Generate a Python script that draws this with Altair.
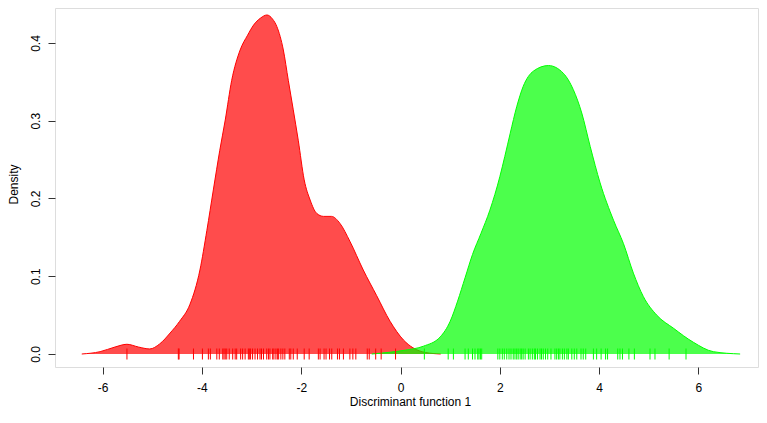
import altair as alt
import pandas as pd

# Density curve of group 1 (red)
red_x = [-6.42, -6.05, -5.75, -5.51, -5.28, -5.05, -4.85, -4.64, -4.45, -4.24,
         -4.04, -3.90, -3.77, -3.64, -3.53, -3.40, -3.23, -3.08, -2.96, -2.82,
         -2.69, -2.58, -2.49, -2.36, -2.26, -2.16, -2.06, -1.94, -1.82, -1.69,
         -1.55, -1.39, -1.22, -1.02, -0.75, -0.48, -0.21, 0.06, 0.25, 0.50, 0.81]
red_y = [0.0, 0.003, 0.009, 0.0125, 0.009, 0.0065, 0.013, 0.027, 0.042, 0.064,
         0.108, 0.159, 0.211, 0.262, 0.301, 0.352, 0.391, 0.410, 0.423, 0.432,
         0.436, 0.431, 0.421, 0.391, 0.352, 0.314, 0.275, 0.224, 0.198, 0.181,
         0.177, 0.177, 0.168, 0.145, 0.108, 0.075, 0.042, 0.018, 0.008, 0.002, 0.0]

# Density curve of group 2 (green)
green_x = [-0.58, -0.25, 0.10, 0.46, 0.80, 1.00, 1.15, 1.30, 1.45, 1.62,
           1.80, 2.00, 2.10, 2.21, 2.34, 2.47, 2.68, 2.98, 3.28, 3.48,
           3.65, 3.82, 4.02, 4.29, 4.49, 4.69, 4.89, 5.16, 5.50, 5.90, 6.30, 6.84]
green_y = [0.0, 0.002, 0.005, 0.010, 0.022, 0.042, 0.068, 0.098, 0.128, 0.155,
           0.185, 0.228, 0.254, 0.284, 0.318, 0.344, 0.364, 0.371, 0.361, 0.340,
           0.310, 0.267, 0.220, 0.172, 0.142, 0.104, 0.074, 0.050, 0.033, 0.015, 0.003, 0.0]

# Rug (individual scores)
red_rug = [-5.51, -4.475, -4.46, -4.17, -3.99, -3.87, -3.83, -3.70, -3.65, -3.58,
           -3.555, -3.53, -3.50, -3.45, -3.38, -3.33, -3.30, -3.22, -3.18, -3.13,
           -3.065, -3.045, -3.02, -2.98, -2.93, -2.88, -2.83, -2.80, -2.76, -2.695,
           -2.66, -2.63, -2.575, -2.55, -2.51, -2.48, -2.455, -2.41, -2.37, -2.33,
           -2.24, -2.21, -2.16, -2.08, -1.94, -1.84, -1.655, -1.62, -1.54, -1.50,
           -1.43, -1.385, -1.27, -1.23, -1.15, -1.02, -0.96, -0.90, -0.67, -0.63,
           -0.50, -0.39, -0.10]
green_rug = [0.48, 0.96, 1.065, 1.30, 1.365, 1.45, 1.50, 1.555, 1.58, 1.61,
             1.635, 1.96, 2.00, 2.05, 2.09, 2.14, 2.185, 2.225, 2.27, 2.305,
             2.34, 2.37, 2.41, 2.44, 2.47, 2.51, 2.575, 2.61, 2.655, 2.695,
             2.72, 2.76, 2.81, 2.84, 2.875, 2.92, 2.965, 3.03, 3.11, 3.145,
             3.18, 3.21, 3.26, 3.30, 3.35, 3.38, 3.45, 3.50, 3.55, 3.635,
             3.68, 3.73, 3.885, 3.95, 4.04, 4.13, 4.17, 4.375, 4.42, 4.47,
             4.60, 4.71, 5.025, 5.125, 5.41, 5.75]

x_ticks = [-6, -4, -2, 0, 2, 4, 6]
y_ticks = [0.0, 0.1, 0.2, 0.3, 0.4]

RED = "#FF0000"
GREEN = "#00FF00"
FONT = "Liberation Sans"

red_df = pd.DataFrame({"x": red_x, "y": red_y})
green_df = pd.DataFrame({"x": green_x, "y": green_y})
red_rug_df = pd.DataFrame({"x": red_rug})
green_rug_df = pd.DataFrame({"x": green_rug})

xscale = alt.Scale(domain=[-6.959, 7.200], nice=False, zero=False)
yscale = alt.Scale(domain=[-0.01672, 0.4450], nice=False, zero=False)

xaxis = alt.Axis(values=x_ticks, labelExpr="datum.value + ''", title="Discriminant function 1",
                 grid=False, domain=False, tickSize=7, tickColor="#333", labelPadding=17,
                 labelBaseline="alphabetic", labelFont=FONT, labelFontSize=12, labelColor="#000",
                 titleFont=FONT, titleFontSize=12, titleFontWeight="normal", titleColor="#000",
                 titleBaseline="alphabetic", titleY=38, titleX=355)
yaxis = alt.Axis(values=y_ticks, format=".1f", title="Density",
                 grid=False, domain=False, tickSize=7, tickColor="#333", labelPadding=9,
                 labelAngle=270, labelAlign="center", labelBaseline="alphabetic",
                 labelFont=FONT, labelFontSize=12, labelColor="#000",
                 titleFont=FONT, titleFontSize=12, titleFontWeight="normal", titleColor="#000",
                 titleAngle=270, titleAlign="center", titleBaseline="alphabetic",
                 titleX=-38, titleY=176)


def area(df, color):
    return alt.Chart(df).mark_area(color=color, opacity=0.7, interpolate="monotone").encode(
        x=alt.X("x:Q", scale=xscale, axis=xaxis),
        y=alt.Y("y:Q", scale=yscale, axis=yaxis),
    )


def line(df, color):
    return alt.Chart(df).mark_line(color=color, strokeWidth=1, interpolate="monotone").encode(
        x=alt.X("x:Q", scale=xscale), y=alt.Y("y:Q", scale=yscale)
    )


def rug(df, color):
    return alt.Chart(df).mark_tick(color=color, orient="vertical", thickness=1, size=11, opacity=1).encode(
        x=alt.X("x:Q", scale=xscale), y=alt.datum(0, scale=yscale)
    )


chart = alt.layer(
    area(red_df, RED), line(red_df, RED),
    area(green_df, GREEN), line(green_df, GREEN),
    rug(red_rug_df, RED), rug(green_rug_df, GREEN),
).properties(
    width=703, height=359,
    autosize=alt.AutoSizeParams(type="none"),
    padding={"left": 47, "top": 0, "right": 1, "bottom": 42},
).configure_view(stroke="#555", strokeWidth=1).configure(background="white")

chart.save("out.html", embed_options={"renderer": "svg", "actions": False})
